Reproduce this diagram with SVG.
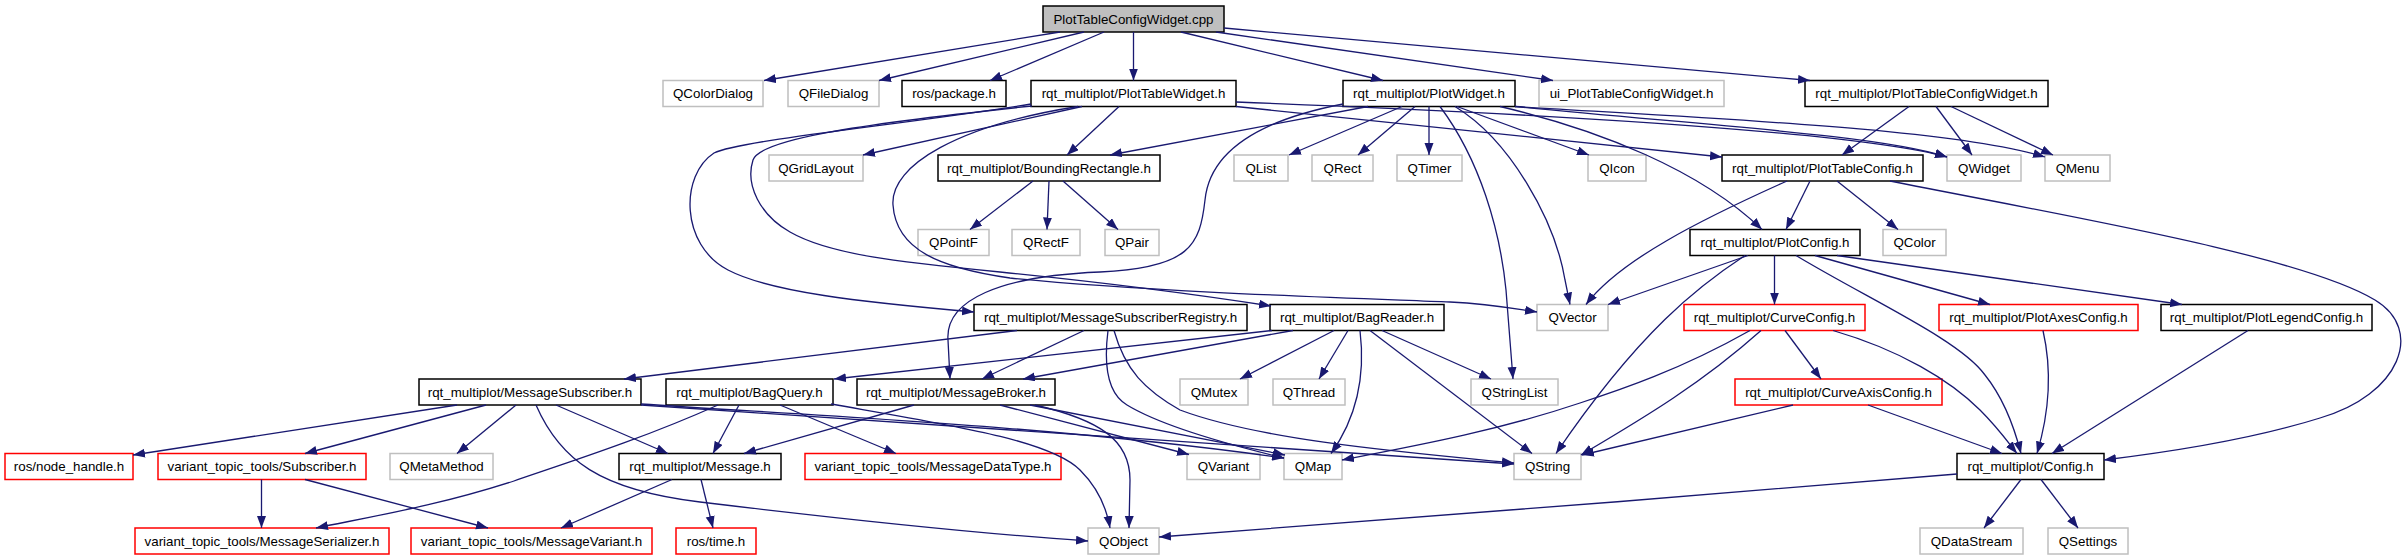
<svg xmlns="http://www.w3.org/2000/svg" width="2404" height="560" viewBox="0 0 2404 560">
<style>
rect{stroke-width:1.5}
.k{fill:#fff;stroke:#000}
.g{fill:#fff;stroke:#bfbfbf}
.r{fill:#fff;stroke:#ff0000}
.t{fill:#bfbfbf;stroke:#000}
text{font-family:"Liberation Sans",Arial,sans-serif;font-size:13.33px;text-anchor:middle;fill:#000}
#edges path{fill:none;stroke:#191970;stroke-width:1.3;marker-end:url(#a)}
</style>
<defs>
<marker id="a" markerUnits="userSpaceOnUse" markerWidth="13" markerHeight="10" refX="12" refY="4.5" orient="auto"><path d="M0,0 L12,4.5 L0,9 z" fill="#191970"/></marker>
</defs>
<rect width="2404" height="560" fill="#fff" stroke="none"/>
<g id="nodes">
<g id="n_cpp"><rect class="t" x="1043" y="6" width="181" height="26"/><text x="1133.5" y="23.5">PlotTableConfigWidget.cpp</text></g>
<g id="n_QColorDialog"><rect class="g" x="663" y="80.5" width="100" height="26"/><text x="713" y="98">QColorDialog</text></g>
<g id="n_QFileDialog"><rect class="g" x="788" y="80.5" width="91" height="26"/><text x="833.5" y="98">QFileDialog</text></g>
<g id="n_ros_package"><rect class="k" x="902" y="80.5" width="104" height="26"/><text x="954" y="98">ros/package.h</text></g>
<g id="n_PlotTableWidget"><rect class="k" x="1031" y="80.5" width="205" height="26"/><text x="1133.5" y="98">rqt_multiplot/PlotTableWidget.h</text></g>
<g id="n_PlotWidget"><rect class="k" x="1343" y="80.5" width="172" height="26"/><text x="1429" y="98">rqt_multiplot/PlotWidget.h</text></g>
<g id="n_ui"><rect class="g" x="1539" y="80.5" width="185" height="26"/><text x="1631.5" y="98">ui_PlotTableConfigWidget.h</text></g>
<g id="n_PlotTableConfigWidget"><rect class="k" x="1805" y="80.5" width="243" height="26"/><text x="1926.5" y="98">rqt_multiplot/PlotTableConfigWidget.h</text></g>
<g id="n_QGridLayout"><rect class="g" x="769" y="155" width="94" height="26"/><text x="816" y="172.5">QGridLayout</text></g>
<g id="n_BoundingRectangle"><rect class="k" x="938" y="155" width="222" height="26"/><text x="1049" y="172.5">rqt_multiplot/BoundingRectangle.h</text></g>
<g id="n_QList"><rect class="g" x="1234" y="155" width="54" height="26"/><text x="1261" y="172.5">QList</text></g>
<g id="n_QRect"><rect class="g" x="1312" y="155" width="61" height="26"/><text x="1342.5" y="172.5">QRect</text></g>
<g id="n_QTimer"><rect class="g" x="1397" y="155" width="65" height="26"/><text x="1429.5" y="172.5">QTimer</text></g>
<g id="n_QIcon"><rect class="g" x="1588" y="155" width="58" height="26"/><text x="1617" y="172.5">QIcon</text></g>
<g id="n_PlotTableConfig"><rect class="k" x="1722" y="155" width="201" height="26"/><text x="1822.5" y="172.5">rqt_multiplot/PlotTableConfig.h</text></g>
<g id="n_QWidget"><rect class="g" x="1947" y="155" width="74" height="26"/><text x="1984" y="172.5">QWidget</text></g>
<g id="n_QMenu"><rect class="g" x="2045" y="155" width="65" height="26"/><text x="2077.5" y="172.5">QMenu</text></g>
<g id="n_QPointF"><rect class="g" x="918" y="229.5" width="71" height="26"/><text x="953.5" y="247">QPointF</text></g>
<g id="n_QRectF"><rect class="g" x="1012" y="229.5" width="68" height="26"/><text x="1046" y="247">QRectF</text></g>
<g id="n_QPair"><rect class="g" x="1105" y="229.5" width="54" height="26"/><text x="1132" y="247">QPair</text></g>
<g id="n_PlotConfig"><rect class="k" x="1690" y="229.5" width="170" height="26"/><text x="1775" y="247">rqt_multiplot/PlotConfig.h</text></g>
<g id="n_QColor"><rect class="g" x="1883" y="229.5" width="63" height="26"/><text x="1914.5" y="247">QColor</text></g>
<g id="n_MessageSubscriberRegistry"><rect class="k" x="974" y="304.5" width="273" height="26"/><text x="1110.5" y="322">rqt_multiplot/MessageSubscriberRegistry.h</text></g>
<g id="n_BagReader"><rect class="k" x="1270" y="304.5" width="174" height="26"/><text x="1357" y="322">rqt_multiplot/BagReader.h</text></g>
<g id="n_QVector"><rect class="g" x="1537" y="304.5" width="71" height="26"/><text x="1572.5" y="322">QVector</text></g>
<g id="n_CurveConfig"><rect class="r" x="1684" y="304.5" width="181" height="26"/><text x="1774.5" y="322">rqt_multiplot/CurveConfig.h</text></g>
<g id="n_PlotAxesConfig"><rect class="r" x="1939" y="304.5" width="199" height="26"/><text x="2038.5" y="322">rqt_multiplot/PlotAxesConfig.h</text></g>
<g id="n_PlotLegendConfig"><rect class="k" x="2161" y="304.5" width="211" height="26"/><text x="2266.5" y="322">rqt_multiplot/PlotLegendConfig.h</text></g>
<g id="n_MessageSubscriber"><rect class="k" x="419" y="379" width="222" height="26"/><text x="530" y="396.5">rqt_multiplot/MessageSubscriber.h</text></g>
<g id="n_BagQuery"><rect class="k" x="666" y="379" width="167" height="26"/><text x="749.5" y="396.5">rqt_multiplot/BagQuery.h</text></g>
<g id="n_MessageBroker"><rect class="k" x="857" y="379" width="198" height="26"/><text x="956" y="396.5">rqt_multiplot/MessageBroker.h</text></g>
<g id="n_QMutex"><rect class="g" x="1180" y="379" width="68" height="26"/><text x="1214" y="396.5">QMutex</text></g>
<g id="n_QThread"><rect class="g" x="1273" y="379" width="72" height="26"/><text x="1309" y="396.5">QThread</text></g>
<g id="n_QStringList"><rect class="g" x="1471" y="379" width="87" height="26"/><text x="1514.5" y="396.5">QStringList</text></g>
<g id="n_CurveAxisConfig"><rect class="r" x="1735" y="379" width="207" height="26"/><text x="1838.5" y="396.5">rqt_multiplot/CurveAxisConfig.h</text></g>
<g id="n_node_handle"><rect class="r" x="5" y="453.5" width="128" height="26"/><text x="69" y="471">ros/node_handle.h</text></g>
<g id="n_Subscriber"><rect class="r" x="158" y="453.5" width="208" height="26"/><text x="262" y="471">variant_topic_tools/Subscriber.h</text></g>
<g id="n_QMetaMethod"><rect class="g" x="390" y="453.5" width="103" height="26"/><text x="441.5" y="471">QMetaMethod</text></g>
<g id="n_Message"><rect class="k" x="619" y="453.5" width="162" height="26"/><text x="700" y="471">rqt_multiplot/Message.h</text></g>
<g id="n_MessageDataType"><rect class="r" x="805" y="453.5" width="256" height="26"/><text x="933" y="471">variant_topic_tools/MessageDataType.h</text></g>
<g id="n_QVariant"><rect class="g" x="1187" y="453.5" width="73" height="26"/><text x="1223.5" y="471">QVariant</text></g>
<g id="n_QMap"><rect class="g" x="1284" y="453.5" width="58" height="26"/><text x="1313" y="471">QMap</text></g>
<g id="n_QString"><rect class="g" x="1514" y="453.5" width="67" height="26"/><text x="1547.5" y="471">QString</text></g>
<g id="n_Config"><rect class="k" x="1957" y="453.5" width="147" height="26"/><text x="2030.5" y="471">rqt_multiplot/Config.h</text></g>
<g id="n_MessageSerializer"><rect class="r" x="135" y="528" width="254" height="26"/><text x="262" y="545.5">variant_topic_tools/MessageSerializer.h</text></g>
<g id="n_MessageVariant"><rect class="r" x="411" y="528" width="241" height="26"/><text x="531.5" y="545.5">variant_topic_tools/MessageVariant.h</text></g>
<g id="n_ros_time"><rect class="r" x="676" y="528" width="80" height="26"/><text x="716" y="545.5">ros/time.h</text></g>
<g id="n_QObject"><rect class="g" x="1088" y="528" width="71" height="26"/><text x="1123.5" y="545.5">QObject</text></g>
<g id="n_QDataStream"><rect class="g" x="1920" y="528" width="103" height="26"/><text x="1971.5" y="545.5">QDataStream</text></g>
<g id="n_QSettings"><rect class="g" x="2048" y="528" width="80" height="26"/><text x="2088" y="545.5">QSettings</text></g>
</g>
<g id="edges">
<path d="M1060,32 L764,80.5"/>
<path d="M1084,32 L879,80.5"/>
<path d="M1104,32 L990,80.5"/>
<path d="M1133.5,32 L1133.5,80.5"/>
<path d="M1181,32 L1383,80.5"/>
<path d="M1216,32 L1553,80.5"/>
<path d="M1224,28 L1810,80.5"/>
<path d="M1909,106.5 L1842,155"/>
<path d="M1936,106.5 L1972,155"/>
<path d="M1951,106.5 L2053,155"/>
<path d="M1082,106.5 L863,155"/>
<path d="M1119,106.5 L1067,155"/>
<path d="M1031,104 C900,125 740,140 714,153 C680,175 680,245 728,270 C770,292 860,302 974,312"/>
<path d="M1032,106 C850,125 760,140 753,160 C745,185 760,215 790,232 C830,255 900,262 1000,272 C1100,282 1200,295 1271,306"/>
<path d="M1078,106.5 C960,125 890,165 893,205 C896,250 940,268 1010,278 C1150,292 1350,298 1450,302 C1490,304 1510,308 1537,312"/>
<path d="M1236,102 C1500,112 1850,130 1947,157"/>
<path d="M1236,106.5 L1722,157"/>
<path d="M1368,106.5 L1110,155"/>
<path d="M1343,104 C1260,120 1210,150 1205,200 C1200,245 1190,268 1100,272 C1000,276 945,300 948,340 L950,379"/>
<path d="M1402,106.5 L1289,155"/>
<path d="M1415,106.5 L1358,155"/>
<path d="M1429,106.5 L1429,155"/>
<path d="M1440,106.5 C1480,160 1500,230 1506,290 L1513,379"/>
<path d="M1455,106.5 C1510,140 1555,220 1565,280 L1570,304.5"/>
<path d="M1457,106.5 L1589,155"/>
<path d="M1500,106.5 C1600,130 1700,170 1762,229.5"/>
<path d="M1515,106.5 C1700,125 1880,135 1947,157"/>
<path d="M1515,106.5 C1700,118 1950,128 2045,157"/>
<path d="M1033,181 L970,229.5"/>
<path d="M1049,181 L1047,229.5"/>
<path d="M1063,181 L1118,229.5"/>
<path d="M1810,181 L1786,229.5"/>
<path d="M1837,181 L1898,229.5"/>
<path d="M1787,181 C1700,220 1620,260 1586,304.5"/>
<path d="M1890,181 C2060,215 2300,255 2375,300 C2425,330 2400,395 2320,418 C2250,440 2170,452 2104,460"/>
<path d="M1748,255.5 L1608,304.5"/>
<path d="M1745,255.5 C1700,285 1640,330 1556,453.5"/>
<path d="M1774.5,255.5 L1774.5,304.5"/>
<path d="M1815,255.5 L1990,304.5"/>
<path d="M1837,255.5 L2182,304.5"/>
<path d="M1796,255.5 C1870,300 1960,340 1985,375 C2005,400 2015,430 2021,453.5"/>
<path d="M1750,330.5 C1680,370 1620,390 1580,403 C1500,430 1420,445 1342,460"/>
<path d="M1761,330.5 C1700,385 1640,420 1581,455"/>
<path d="M1785,330.5 L1821,379"/>
<path d="M1833,330.5 C1900,350 1950,380 1980,410 C2000,430 2010,445 2017,453.5"/>
<path d="M2043,330.5 C2052,370 2050,410 2037,453.5"/>
<path d="M2248,330.5 L2052,453.5"/>
<path d="M1793,405 L1582,455"/>
<path d="M1868,405 L2002,453.5"/>
<path d="M1957,474 C1700,495 1400,520 1159,537"/>
<path d="M2021,479.5 L1984,528"/>
<path d="M2041,479.5 L2078,528"/>
<path d="M1017,330.5 L624,379"/>
<path d="M1084,330.5 L982,379"/>
<path d="M1108,330.5 C1103,370 1110,395 1127,405 C1160,425 1230,445 1284,458"/>
<path d="M1114,330.5 C1125,370 1145,390 1180,410 C1260,440 1400,452 1514,463"/>
<path d="M1272,330.5 L834,379"/>
<path d="M1293,330.5 L1023,379"/>
<path d="M1334,330.5 L1240,379"/>
<path d="M1348,330.5 L1319,379"/>
<path d="M1382,330.5 L1491,379"/>
<path d="M1360,330.5 C1366,380 1355,420 1331,453.5"/>
<path d="M1370,330.5 L1532,453.5"/>
<path d="M457,405 L133,455"/>
<path d="M486,405 L305,453.5"/>
<path d="M516,405 L457,453.5"/>
<path d="M536,405 C560,460 600,490 700,502 C850,520 1000,535 1088,541"/>
<path d="M556,405 L668,453.5"/>
<path d="M641,404 C800,415 1050,425 1284,458"/>
<path d="M641,405 C850,420 1150,440 1514,464"/>
<path d="M718,405 C640,440 560,465 514,481 C440,505 380,515 316,528"/>
<path d="M739,405 L713,453.5"/>
<path d="M780,405 L896,453.5"/>
<path d="M831,404 C950,425 1050,440 1080,470 C1100,490 1107,510 1110,528"/>
<path d="M914,405 L744,453.5"/>
<path d="M1000,405 L1189,454.5"/>
<path d="M1030,405 L1285,455"/>
<path d="M1035,405 C1100,420 1130,440 1130,480 L1129,528"/>
<path d="M672,479.5 L561,528"/>
<path d="M701,479.5 L713,528"/>
<path d="M261.5,479.5 L261.5,528"/>
<path d="M305,479.5 L488,528"/>
</g>
</svg>
